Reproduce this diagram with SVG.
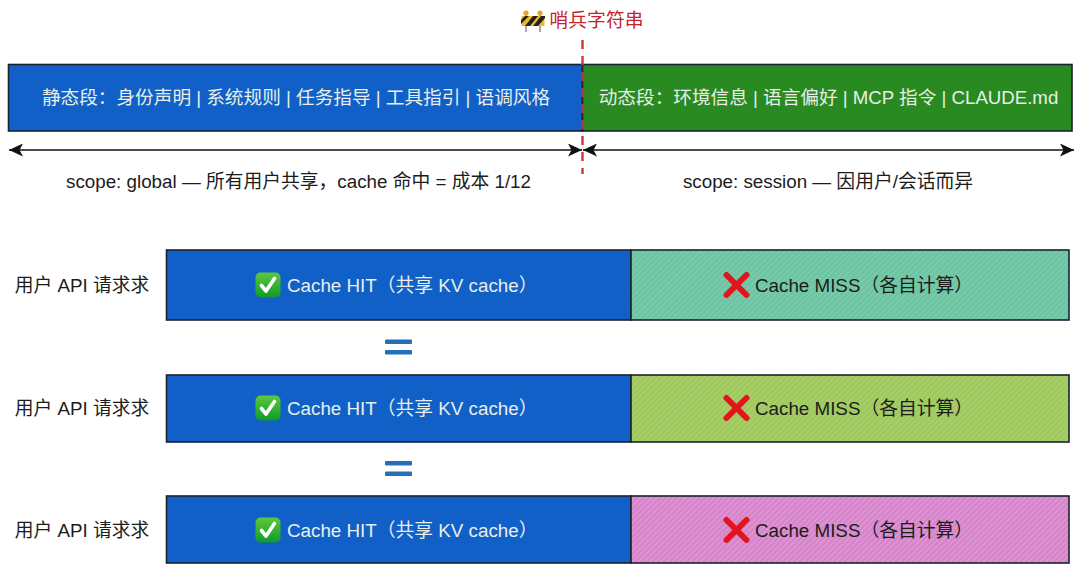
<svg xmlns="http://www.w3.org/2000/svg" width="1080" height="571" viewBox="0 0 1080 571">
<style>
text{font-family:"Liberation Sans","Noto Sans CJK SC",sans-serif;font-size:18.8px;text-anchor:middle;dominant-baseline:central}
.w{fill:#e8efe8}.k{fill:#1c1c1c}.r{fill:#c4242c}
.box{stroke:#1a2230;stroke-width:1.6}
.blue{fill:#1160c8}.green{fill:#2a8a22}
.eq{fill:#2270bc}
.conn{stroke:#111;stroke-width:1.5;fill:none}
.dash{stroke:#d0343c;stroke-width:2.4;stroke-dasharray:9 7;fill:none}
.x{stroke:#e2141c;stroke-width:6;stroke-linecap:round;fill:none}
.chk{stroke:#fff;stroke-width:3.6;fill:none;stroke-linecap:round;stroke-linejoin:round}
.s{text-anchor:start}
.t{font-size:18.65px}
</style>
<defs>
<marker id="ah" viewBox="0 0 14 13" refX="14" refY="6.500" markerWidth="14" markerHeight="13" markerUnits="userSpaceOnUse" orient="auto-start-reverse"><path d="M0 0L14 6.500L0 13L3.500 6.500Z" fill="#111"/></marker>
<pattern id="h1" width="4" height="4" patternUnits="userSpaceOnUse" patternTransform="rotate(45)"><rect width="4" height="4" fill="#6cc4a2"/><rect width="1.4" height="4" fill="#7dccae"/></pattern>
<pattern id="h2" width="4" height="4" patternUnits="userSpaceOnUse" patternTransform="rotate(45)"><rect width="4" height="4" fill="#9ec85c"/><rect width="1.4" height="4" fill="#acd070"/></pattern>
<pattern id="h3" width="4" height="4" patternUnits="userSpaceOnUse" patternTransform="rotate(45)"><rect width="4" height="4" fill="#d684ca"/><rect width="1.4" height="4" fill="#e098d6"/></pattern>
<linearGradient id="cg" x1="0" y1="0" x2="0" y2="1"><stop offset="0" stop-color="#5ec83c"/><stop offset="1" stop-color="#109a2c"/></linearGradient>
<g id="check"><rect x="-12.500" y="-12.500" width="25" height="25" rx="5" fill="url(#cg)"/><path class="chk" d="M-6.500 0.500L-2 6L6.500 -6.500"/></g>
<g id="cross"><path class="x" d="M-10 -10L10 10M10 -10L-10 10"/></g>
</defs>

<g id="sentinel">
<g transform="translate(533,21)">
<path d="M-7 -6V11M7 -6V11" stroke="#a8a8a8" stroke-width="2"/>
<rect x="-11.500" y="-5" width="23" height="10" fill="#f0b828"/>
<path d="M-8 -5L-12 -1V3L-4 -5ZM0 -5L-8 5H-3L5 -5ZM8 -5L0 5H5L12 -3V-5Z" fill="#222"/>
<circle cx="-7" cy="-8" r="2.600" fill="#e8a030"/><circle cx="7" cy="-8" r="2.600" fill="#e8a030"/>
</g>
<text class="r" x="596.500" y="20.500">哨兵字符串</text>
</g>

<g id="static-segment"><rect class="box blue" x="8.500" y="64.500" width="574" height="66.500"/><text class="w t" x="296" y="97.500">静态段：身份声明 | 系统规则 | 任务指导 | 工具指引 | 语调风格</text></g>
<g id="dynamic-segment"><rect class="box green" x="582.500" y="64.500" width="489.500" height="66.500"/><text class="w t" x="828.500" y="97.500">动态段：环境信息 | 语言偏好 | MCP 指令 | CLAUDE.md</text></g>

<g id="connectors">
<line class="conn" x1="9" y1="150" x2="582" y2="150" marker-start="url(#ah)" marker-end="url(#ah)"/>
<line class="conn" x1="583" y1="150" x2="1074" y2="150" marker-start="url(#ah)" marker-end="url(#ah)"/>
<line class="dash" x1="582.500" y1="40" x2="582.500" y2="174"/>
</g>
<g id="scope-global"><text class="k" x="298.500" y="181">scope: global — 所有用户共享，cache 命中 = 成本 1/12</text></g>
<g id="scope-session"><text class="k" x="828" y="181">scope: session — 因用户/会话而异</text></g>

<g id="row-1">
<text class="k" x="82" y="285">用户 API 请求求</text>
<rect class="box blue" x="166.500" y="250" width="464.500" height="70"/>
<rect class="box" fill="url(#h1)" x="631" y="250" width="438" height="70"/>
<use href="#check" x="268" y="285"/><text class="w s" x="287" y="285">Cache HIT（共享 KV cache）</text>
<use href="#cross" x="736.500" y="285"/><text class="k s" x="755" y="285">Cache MISS（各自计算）</text>
</g>
<g id="equals-1"><rect class="eq" x="385" y="339.500" width="27" height="4.500" rx="1"/><rect class="eq" x="385" y="350" width="27" height="4.500" rx="1"/></g>
<g id="row-2">
<text class="k" x="82" y="408">用户 API 请求求</text>
<rect class="box blue" x="166.500" y="375" width="464.500" height="67"/>
<rect class="box" fill="url(#h2)" x="631" y="375" width="438" height="67"/>
<use href="#check" x="268" y="408"/><text class="w s" x="287" y="408">Cache HIT（共享 KV cache）</text>
<use href="#cross" x="736.500" y="408"/><text class="k s" x="755" y="408">Cache MISS（各自计算）</text>
</g>
<g id="equals-2"><rect class="eq" x="385" y="461" width="27" height="4.500" rx="1"/><rect class="eq" x="385" y="471.500" width="27" height="4.500" rx="1"/></g>
<g id="row-3">
<text class="k" x="82" y="530">用户 API 请求求</text>
<rect class="box blue" x="166.500" y="496" width="464.500" height="67"/>
<rect class="box" fill="url(#h3)" x="631" y="496" width="438" height="67"/>
<use href="#check" x="268" y="530"/><text class="w s" x="287" y="530">Cache HIT（共享 KV cache）</text>
<use href="#cross" x="736.500" y="530"/><text class="k s" x="755" y="530">Cache MISS（各自计算）</text>
</g>
</svg>
